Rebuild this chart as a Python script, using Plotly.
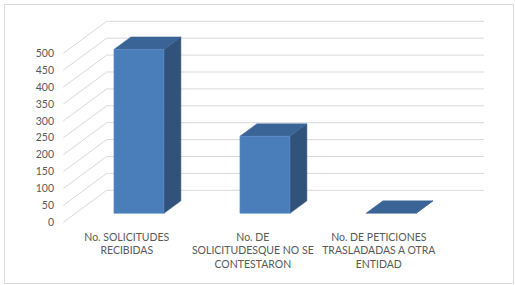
import plotly.graph_objects as go

# ---- data ----
categories = ["No. SOLICITUDES<br>RECIBIDAS",
              "No. DE<br>SOLICITUDESQUE NO SE<br>CONTESTARON",
              "No. DE PETICIONES<br>TRASLADADAS A OTRA<br>ENTIDAD"]
values = [485, 228, 0]
y_ticks = list(range(0, 501, 50))

# ---- styling / geometry (oblique 3D projection) ----
W, H = 515, 285
L, R, T, B = 55, 500, 8, 229           # plot area in pixels
CAT0_PX, CAT_STEP_PX = 126.8, 126.0    # front-plane x of first category, spacing
ZERO_PX, PX_PER_UNIT = 222.3, 0.338    # front-plane y of value 0, px per value unit

x_rng = [(L - CAT0_PX) / CAT_STEP_PX, (R - CAT0_PX) / CAT_STEP_PX]
y_rng = [(ZERO_PX - B) / PX_PER_UNIT, (ZERO_PX - T) / PX_PER_UNIT]

DX = 43.4 / CAT_STEP_PX        # full depth offset (category units)
DY = 32.0 / PX_PER_UNIT        # full depth offset (value units)
WALL_LEFT = (63.3 - CAT0_PX) / CAT_STEP_PX
WALL_RIGHT = (484 - CAT0_PX) / CAT_STEP_PX
BAR_W = 50 / CAT_STEP_PX
BAR_D0 = 0.28                  # depth of bar front
BAR_D = 0.39                   # bar depth

FRONT = "#4a7ebb"
SIDE = "#30527b"
TOP = "#3b6496"
GRID = "#d9d9d9"
TXT = "#595959"
FONT = "Lato, Carlito, Calibri, sans-serif"

fig = go.Figure()

# gridlines: left wall diagonals + back wall
gx, gy = [], []
for v in y_ticks:
    gx += [WALL_LEFT, WALL_LEFT + DX, WALL_RIGHT, None]
    gy += [v, v + DY, v + DY, None]
fig.add_trace(go.Scatter(x=gx, y=gy, mode="lines",
                         line=dict(color=GRID, width=1),
                         hoverinfo="skip", showlegend=False))

# bars
for i, v in enumerate(values):
    x0 = i - BAR_W / 2 + BAR_D0 * DX
    x1 = x0 + BAR_W
    b = BAR_D0 * DY
    ddx, ddy = BAR_D * DX, BAR_D * DY
    # side face
    fig.add_trace(go.Scatter(
        x=[x1, x1 + ddx, x1 + ddx, x1, x1],
        y=[b, b + ddy, b + v + ddy, b + v, b],
        mode="lines", fill="toself", fillcolor=SIDE,
        line=dict(color=SIDE, width=0.5),
        hoverinfo="skip", showlegend=False))
    # top face
    fig.add_trace(go.Scatter(
        x=[x0, x1, x1 + ddx, x0 + ddx, x0],
        y=[b + v, b + v, b + v + ddy, b + v + ddy, b + v],
        mode="lines", fill="toself", fillcolor=TOP,
        line=dict(color=TOP, width=0.5),
        hoverinfo="skip", showlegend=False))
    # front face
    if v > 0:
        fig.add_trace(go.Scatter(
            x=[x0, x1, x1, x0, x0],
            y=[b, b, b + v, b + v, b],
            mode="lines", fill="toself", fillcolor=FRONT,
            line=dict(color="#5a8ccb", width=0.6),
            hoverinfo="skip", showlegend=False))

# chart border (paper coords relative to plot area)
def px2paper_x(px):
    return (px - L) / (R - L)

def px2paper_y(py):
    return (B - py) / (B - T)

fig.add_shape(type="rect", xref="paper", yref="paper",
              x0=px2paper_x(4.5), x1=px2paper_x(513.5),
              y0=px2paper_y(283.5), y1=px2paper_y(4.5),
              line=dict(color="#d9d9d9", width=1), layer="below")

fig.update_layout(
    width=W, height=H,
    margin=dict(l=L, r=W - R, t=T, b=H - B, autoexpand=False),
    paper_bgcolor="white", plot_bgcolor="white",
    showlegend=False,
    font=dict(family=FONT, size=10, color=TXT),
    xaxis=dict(range=x_rng, tickmode="array", tickvals=[0, 1, 2],
               ticktext=categories, showgrid=False, zeroline=False,
               showline=False, ticks="", fixedrange=True, automargin=False,
               tickfont=dict(size=10.5, color=TXT)),
    yaxis=dict(range=y_rng, tickmode="array", tickvals=y_ticks,
               ticktext=[str(t) for t in y_ticks], showgrid=False,
               zeroline=False, showline=False, ticks="", fixedrange=True,
               automargin=False, tickfont=dict(size=10.5, color=TXT)),
)

fig.write_html("out.html", config={"displayModeBar": False},
               post_script="document.body.style.margin='0';document.body.style.overflow='hidden';")
